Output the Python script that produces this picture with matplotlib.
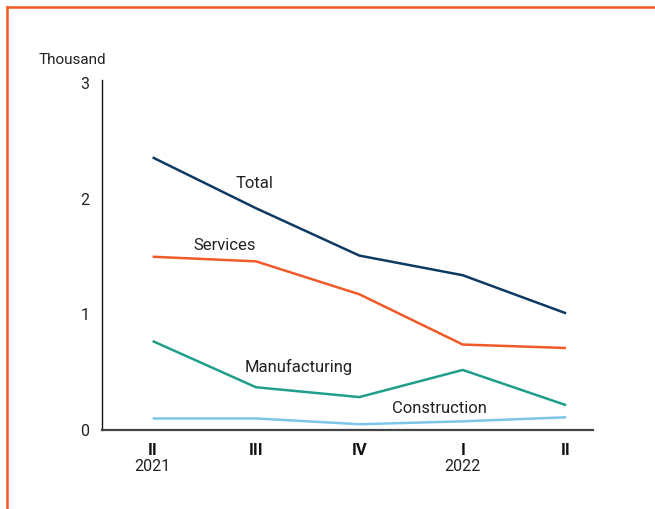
import matplotlib
matplotlib.use("Agg")
import matplotlib.pyplot as plt
from matplotlib.lines import Line2D
import matplotlib.transforms as mtransforms

plt.rcParams['font.family'] = ['Roboto', 'DejaVu Sans']

# Quarterly values, thousands
quarters = ["II", "III", "IV", "I", "II"]
years = ["2021", "", "", "2022", ""]
total = [2.36, 1.92, 1.51, 1.34, 1.01]
services = [1.50, 1.46, 1.175, 0.74, 0.71]
manufacturing = [0.77, 0.37, 0.285, 0.52, 0.215]
construction = [0.10, 0.10, 0.05, 0.075, 0.11]

fig = plt.figure(figsize=(6.55, 5.09), dpi=100)
ax = fig.add_axes([0.1557, 0.1552, 0.7496, 0.6876])

x = list(range(len(quarters)))
ax.plot(x, total, color="#0d3a62", lw=1.8, solid_capstyle="butt")
ax.plot(x, services, color="#f05a28", lw=1.8, solid_capstyle="butt")
ax.plot(x, manufacturing, color="#1f9e89", lw=1.8, solid_capstyle="butt")
ax.plot(x, construction, color="#7ec6e8", lw=1.8, solid_capstyle="butt")

lbl = dict(fontsize=12, ha="center", va="center", color="#222222")
ax.text(0.99, 2.13, "Total", **lbl)
ax.text(0.70, 1.60, "Services", **lbl)
ax.text(1.41, 0.545, "Manufacturing", **lbl)
ax.text(2.77, 0.19, "Construction", **lbl)

ax.set_xlim(-0.49, 4.26)
ax.set_ylim(0, 3.03)
ax.set_yticks([0, 1, 2, 3])
ax.set_yticklabels(["0", "1", "2", "3"], fontsize=11.5, color="#222222")
ax.set_xticks(x)
ax.set_xticklabels(quarters, fontsize=12, fontweight="bold", color="#111111")
ax.tick_params(axis="both", length=0)
ax.tick_params(axis="y", pad=9)
ax.tick_params(axis="x", pad=9)

trans = mtransforms.blended_transform_factory(ax.transData, ax.transAxes)
for xi, yr in zip(x, years):
    if yr:
        ax.text(xi, -0.105, yr, transform=trans, fontsize=11.5, ha="center",
                va="center", color="#222222")

for side in ["top", "right"]:
    ax.spines[side].set_visible(False)
ax.spines["left"].set_color("#111111")
ax.spines["left"].set_linewidth(1.0)
ax.spines["bottom"].set_color("#444444")
ax.spines["bottom"].set_linewidth(1.6)

fig.text(72 / 655, 1 - 60 / 509, "Thousand", fontsize=11, ha="center", va="center",
         color="#222222")

# orange frame along the left and top edges
fig.add_artist(Line2D([7 / 655, 7 / 655], [0, 1 - 7 / 509], transform=fig.transFigure,
                      color="#f05a28", lw=1.8))
fig.add_artist(Line2D([7 / 655, 1], [1 - 7 / 509, 1 - 7 / 509], transform=fig.transFigure,
                      color="#f05a28", lw=1.8))

fig.savefig("out.png", dpi=100)
